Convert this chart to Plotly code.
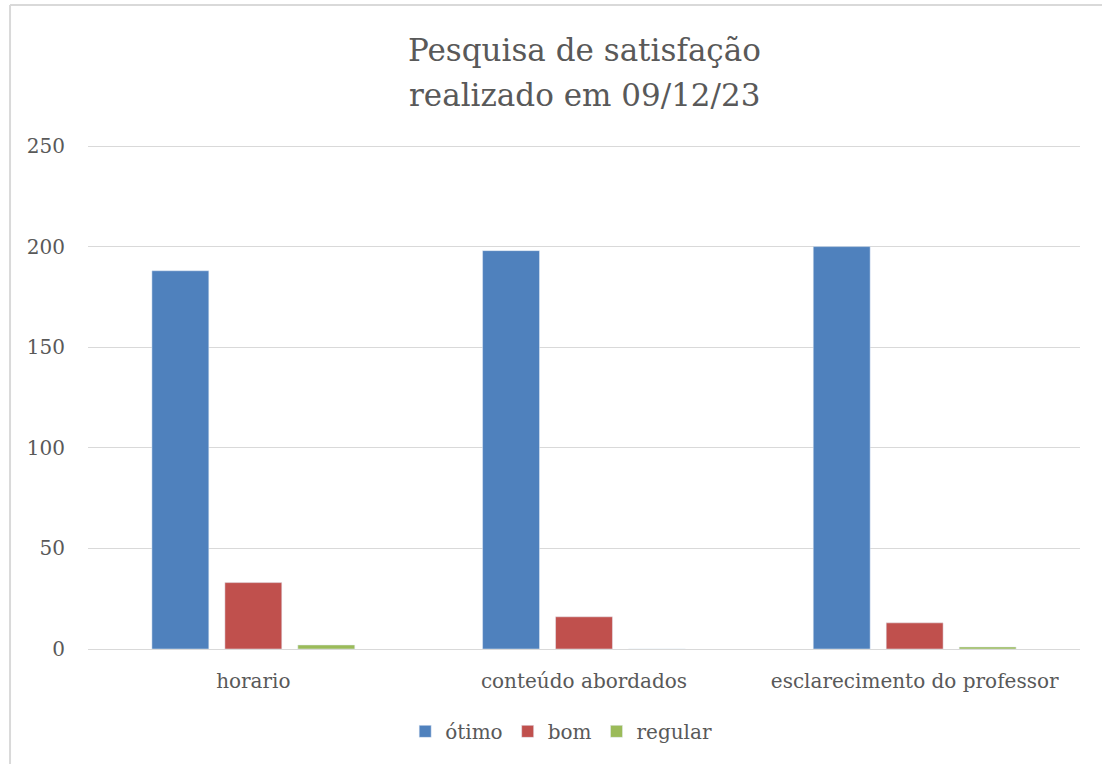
import plotly.graph_objects as go

# data
categorias = ["horario", "conteúdo abordados", "esclarecimento do professor"]
otimo = [188, 198, 200]
bom = [33, 16, 13]
regular = [2, 0, 1]

titulo = ["Pesquisa de satisfação", "realizado em 09/12/23"]

FONT = "DejaVu Serif"
TEXT = "#595959"
GRID = "#D9D9D9"

fig = go.Figure()
fig.add_trace(go.Bar(x=categorias, y=otimo, name="ótimo", marker_color="#4F81BD"))
fig.add_trace(go.Bar(x=categorias, y=bom, name="bom", marker_color="#C0504D"))
fig.add_trace(go.Bar(x=categorias, y=regular, name="regular", marker_color="#9BBB59"))

fig.update_layout(
    width=1102,
    height=764,
    margin=dict(l=88, r=22, t=142, b=115),
    paper_bgcolor="white",
    plot_bgcolor="white",
    font=dict(family=FONT, color=TEXT, size=20),
    barmode="group",
    bargap=0.338,
    bargroupgap=0.22,
    showlegend=True,
    legend=dict(
        orientation="h", x=0.477, xanchor="center", y=-0.124, yanchor="top",
        font=dict(family=FONT, size=20, color=TEXT),
        itemwidth=30, traceorder="normal",
    ),
    shapes=[
        # outer chart frame (top and left edges visible)
        dict(type="line", xref="paper", yref="paper", x0=-0.0786, x1=1.1, y0=1.2702, y1=1.2702,
             line=dict(color=GRID, width=2)),
        dict(type="line", xref="paper", yref="paper", x0=-0.0786, x1=-0.0786, y0=-0.3, y1=1.2702,
             line=dict(color=GRID, width=2)),
    ],
)

# two-line title
for texto, ypos in zip(titulo, [1.1815, 1.0927]):
    fig.add_annotation(
        text=texto, xref="paper", yref="paper", x=0.5, y=ypos,
        xanchor="center", yanchor="middle", showarrow=False,
        font=dict(family=FONT, size=31, color=TEXT),
    )

fig.update_yaxes(
    range=[0, 252], tickvals=[0, 50, 100, 150, 200, 250], showgrid=True, gridcolor=GRID, gridwidth=1,
    zeroline=False, showline=False, ticks="", ticklabelstandoff=22,
    tickfont=dict(family=FONT, size=20, color=TEXT),
)
fig.update_xaxes(
    showline=True, linecolor=GRID, linewidth=1, ticks="", ticklabelstandoff=14,
    tickfont=dict(family=FONT, size=20, color=TEXT),
)

fig.write_html(
    "out.html",
    config={"displayModeBar": False},
    post_script="document.body.style.margin='0';",
)
